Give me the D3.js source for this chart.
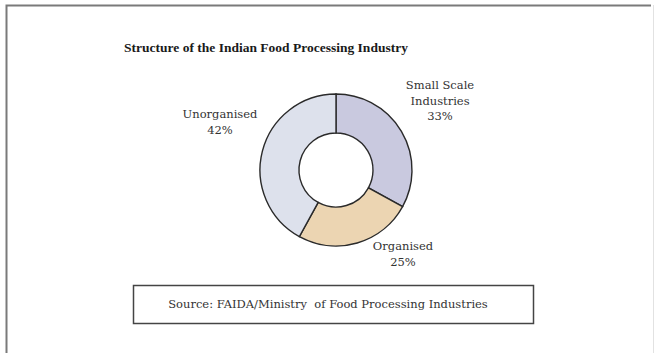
<!DOCTYPE html>
<html>
<head>
<meta charset="utf-8">
<script src="https://cdn.jsdelivr.net/npm/d3@7"></script>
<style>
  body { margin: 0; background: #fff; }
  svg text { font-family: "DejaVu Serif", serif; fill: #333; }
  svg text.title { font-family: "Liberation Serif", serif; fill: #1a1a1a; }
</style>
</head>
<body>
<div class="chart"></div>
<script>
const categories = ["Small Scale Industries", "Organised", "Unorganised"];
const shares = [33, 25, 42];
const labelLines = [["Small Scale", "Industries", "33%"], ["Organised", "25%"], ["Unorganised", "42%"]];
const title = "Structure of the Indian Food Processing Industry";
const source = "Source: FAIDA/Ministry  of Food Processing Industries";

const w = 655;
const h = 353;
const cx = 336, cy = 170;
const outerR = 76, innerR = 37;

const svg = d3.select(".chart")
  .append("svg")
  .attr("width", w)
  .attr("height", h);

// outer frame: left and top are dark, right edge is barely there
svg.append("path")
  .attr("d", "M6.5,360 V5.5 H651")
  .attr("fill", "none")
  .attr("stroke", "#7a7a7a")
  .attr("stroke-width", 2);
svg.append("line")
  .attr("x1", 653.5).attr("x2", 653.5)
  .attr("y1", 5).attr("y2", 360)
  .attr("stroke", "#e2e2e2");

svg.append("text")
  .attr("class", "title")
  .attr("x", 266)
  .attr("y", 52)
  .attr("text-anchor", "middle")
  .style("font-size", "13.5px")
  .style("font-weight", "bold")
  .text(title);

const color = d3.scaleOrdinal()
  .domain(categories)
  .range(["#c9c9df", "#ecd5b2", "#dde1ec"]);

const pie = d3.pie().sort(null).value(d => d);
const arc = d3.arc().innerRadius(innerR).outerRadius(outerR);

const g = svg.append("g").attr("transform", `translate(${cx},${cy})`);

g.selectAll("path")
  .data(pie(shares))
  .enter().append("path")
  .attr("d", arc)
  .attr("fill", (d, i) => color(categories[i]))
  .attr("stroke", "#2a2a2a")
  .attr("stroke-width", 1.4);

// label positions around the ring
const labelPos = [[440, 89], [403, 250], [220, 118]];
labelLines.forEach(function(lines, i) {
  const t = svg.append("text")
    .attr("x", labelPos[i][0])
    .attr("y", labelPos[i][1])
    .attr("text-anchor", "middle")
    .style("font-size", "11.5px");
  lines.forEach(function(l, j) {
    t.append("tspan")
      .attr("x", labelPos[i][0])
      .attr("dy", j === 0 ? 0 : 15.5)
      .text(l);
  });
});

// source box
svg.append("rect")
  .attr("x", 133.5)
  .attr("y", 285.5)
  .attr("width", 400)
  .attr("height", 38)
  .attr("fill", "#fff")
  .attr("stroke", "#444")
  .attr("stroke-width", 1.5);

svg.append("text")
  .attr("x", 328)
  .attr("y", 308)
  .attr("text-anchor", "middle")
  .attr("xml:space", "preserve")
  .style("white-space", "pre")
  .style("font-size", "11.5px")
  .text(source);
</script>
</body>
</html>
